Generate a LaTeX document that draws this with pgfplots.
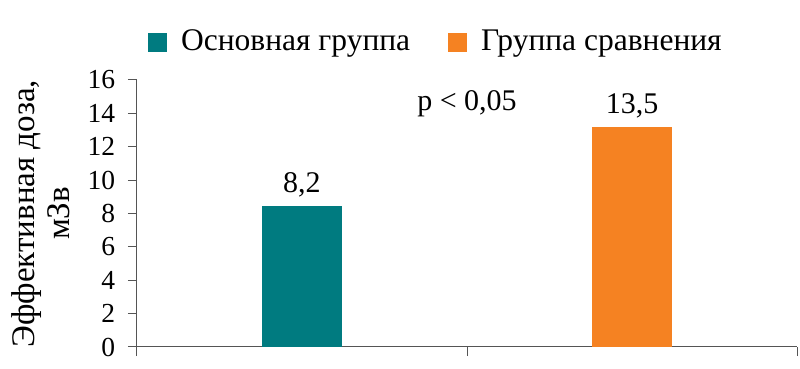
\documentclass[border=0pt]{standalone}
\usepackage{pgfplots}
\pgfplotsset{compat=1.18}
\usepackage{fontspec}
\setmainfont{Liberation Serif}
\definecolor{tealc}{HTML}{007B80}
\definecolor{orangec}{HTML}{F58222}
\definecolor{axc}{HTML}{555555}
\begin{document}
\fontsize{26}{32}\selectfont
\begin{tikzpicture}
\begin{axis}[
  at={(0pt,0pt)}, anchor=south west,
  scale only axis, width=660pt, height=267pt,
  xmin=-0.5, xmax=1.5, ymin=0, ymax=16,
  axis x line=bottom, axis y line=left,
  axis line style={axc, line width=1pt, -},
  xtick={-0.5,0.5,1.5}, xticklabels={},
  ytick={0,2,...,16},
  tick style={axc, line width=1pt},
  major tick length=9pt,
  xtick align=outside, ytick align=outside,
  tick label style={font=\fontsize{27.5}{32}\selectfont},
  /pgf/number format/assume math mode=true,
  yticklabel style={xshift=-4pt},
  ylabel={Эффективная доза,\\мЗв},
  ylabel style={align=center, font=\fontsize{33}{35}\selectfont, at={(axis description cs:-0.089,0.5)}, anchor=south},
  ybar, bar width=80pt, bar shift=0pt,
  nodes near coords,
  point meta=explicit symbolic,
  nodes near coords style={font=\fontsize{30}{34}\selectfont, black},
  legend style={at={(axis description cs:0.012,1.142)}, anchor=west, draw=none, fill=none,
    legend columns=2, font=\fontsize{31.5}{36}\selectfont,
    /tikz/every odd column/.append style={column sep=12pt},
    /tikz/every even column/.append style={column sep=36pt}},
  legend image code/.code={\fill[#1] (0pt,-9.5pt) rectangle (19pt,9.5pt);},
  clip=false,
]
\addplot[fill=tealc, draw=none] coordinates {(0,8.45) [8,2]};
\addlegendentry{Основная группа}
\addplot[fill=orangec, draw=none] coordinates {(1,13.2) [13,5]};
\addlegendentry{Группа сравнения}
\node[font=\fontsize{30}{34}\selectfont] at (axis cs:0.5,14.6) {p < 0,05};
\end{axis}
\pgfresetboundingbox
\path (-137pt,-22pt) rectangle (663pt,347pt);
\end{tikzpicture}
\end{document}
